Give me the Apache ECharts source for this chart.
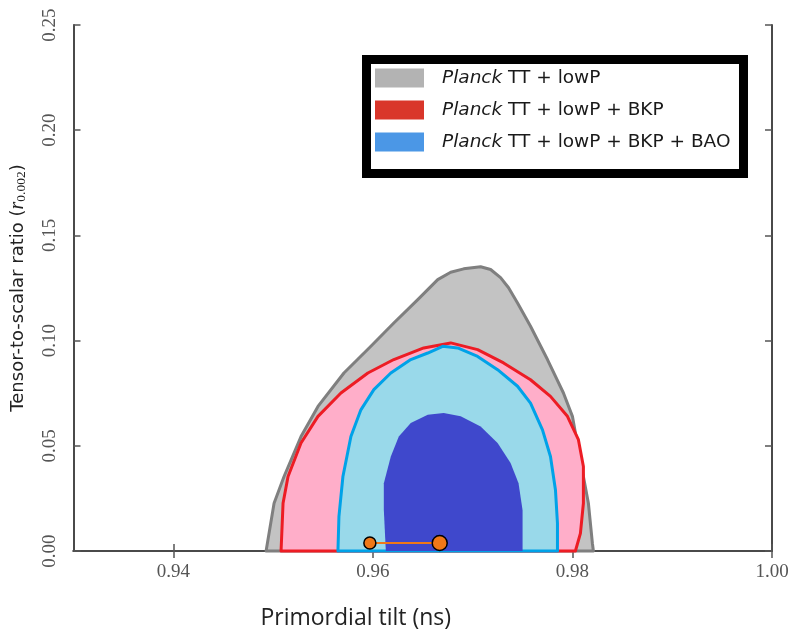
<!DOCTYPE html>
<html>
<head>
<meta charset="UTF-8">
<title>Planck r vs ns</title>
<script src="https://cdn.jsdelivr.net/npm/echarts@6/dist/echarts.min.js"></script>
</head>
<body style="margin:0;background:#fff;">
<div id="chartArea" style="width:792px;height:635px;"></div>
<script type="text/javascript">
// tick values
var xTicks = [0.94, 0.96, 0.98, 1.00];
var yTicks = [0.00, 0.05, 0.10, 0.15, 0.20, 0.25];

// contour outlines [ns, r]
var grayContour = [
  [0.9493, 0], [0.9501, 0.0227], [0.9511, 0.0354], [0.9528, 0.0544], [0.9545, 0.0687],
  [0.9571, 0.0846], [0.9598, 0.0973], [0.9621, 0.1084], [0.9645, 0.1195], [0.9665, 0.1290],
  [0.9678, 0.1325], [0.9691, 0.1341], [0.9708, 0.1351], [0.9718, 0.1338], [0.9728, 0.1299],
  [0.9736, 0.1251], [0.9745, 0.1179], [0.9758, 0.1068],
  [0.9775, 0.0910], [0.9791, 0.0751], [0.9800, 0.0640], [0.9806, 0.0481], [0.9811, 0.0354],
  [0.9816, 0.0227], [0.9820, 0.0037], [0.9821, 0]
];
var redContour = [
  [0.9508, 0], [0.9510, 0.0227], [0.9515, 0.0354], [0.9528, 0.0513], [0.9545, 0.0640],
  [0.9568, 0.0751], [0.9595, 0.0846], [0.9621, 0.0910], [0.9651, 0.0965], [0.9678, 0.0989],
  [0.9705, 0.0957], [0.9731, 0.0894], [0.9758, 0.0814], [0.9778, 0.0735], [0.9795, 0.0640],
  [0.9806, 0.0529], [0.9811, 0.0402], [0.9811, 0.0227], [0.9808, 0.0084], [0.9803, 0]
];
var blueContour = [
  [0.9565, 0], [0.9566, 0.0163], [0.9570, 0.0354], [0.9578, 0.0544], [0.9588, 0.0671],
  [0.9601, 0.0767], [0.9618, 0.0846], [0.9638, 0.0910], [0.9655, 0.0941], [0.9670, 0.0973],
  [0.9685, 0.0965], [0.9705, 0.0925], [0.9725, 0.0862], [0.9745, 0.0783], [0.9758, 0.0703],
  [0.9770, 0.0576], [0.9778, 0.0449], [0.9783, 0.0290], [0.9785, 0.0132], [0.9785, 0]
];
var blueInner = [
  [0.9613, 0], [0.9611, 0.0195], [0.9611, 0.0322], [0.9618, 0.0449], [0.9626, 0.0544],
  [0.9638, 0.0608], [0.9655, 0.0648], [0.9671, 0.0656], [0.9688, 0.0640], [0.9708, 0.0592],
  [0.9725, 0.0513], [0.9738, 0.0418], [0.9746, 0.0322], [0.9750, 0.0195], [0.9750, 0]
];
var markerPoints = [[0.9597, 0.0038], [0.9667, 0.0038]];

var seriesNames = ['Planck TT+lowP', 'Planck TT+lowP+BKP', 'Planck TT+lowP+BKP+BAO'];

function polygon(points, fill, stroke, lw) {
  return function(params, api) {
    if (params.dataIndex !== 0) return;
    var pts = points.map(function(p) { return api.coord(p); });
    return {
      type: 'polygon',
      shape: { points: pts },
      style: { fill: fill, stroke: stroke || null, lineWidth: lw || 0, lineJoin: 'round' }
    };
  };
}

var myChart = echarts.init(document.getElementById('chartArea'));
var axisLine = { show: true, lineStyle: { color: '#4a4a4a', width: 2 } };
var tickStyle = { inside: true, length: 7, lineStyle: { color: '#555', width: 1.5 } };
var labelFont = { fontFamily: 'Liberation Serif', fontSize: 19, color: '#555' };

var option = {
  animation: false,
  backgroundColor: '#fff',
  grid: { left: 72, right: 20, top: 25, bottom: 84 },
  xAxis: [{
    type: 'value', min: 0.93, max: 1.00,
    name: 'Primordial tilt (ns)', nameLocation: 'middle', nameGap: 56,
    nameTextStyle: { fontFamily: 'Open Sans', fontSize: 23, color: '#222', padding: [0, 134, 0, 0] },
    axisLine: { show: true, lineStyle: { color: '#222', width: 2 } },
    axisTick: Object.assign({ customValues: xTicks }, tickStyle),
    axisLabel: Object.assign({ customValues: xTicks, margin: 12,
      formatter: function(v) { return v.toFixed(2); } }, labelFont),
    splitLine: { show: false }
  }, {
    type: 'value', min: 0.93, max: 1.00, position: 'top',
    axisLine: axisLine,
    axisTick: Object.assign({ customValues: xTicks }, tickStyle),
    axisLabel: { show: false },
    splitLine: { show: false }
  }],
  yAxis: [{
    type: 'value', min: 0, max: 0.25, interval: 0.05,
    name: '{a|Tensor-to-scalar ratio (}{r|r}{s|0.002}{a|)}',
    nameLocation: 'middle', nameGap: 45,
    nameTextStyle: {
      rich: {
        a: { fontFamily: 'DejaVu Sans', fontSize: 18, color: '#222' },
        r: { fontFamily: 'Liberation Serif', fontStyle: 'italic', fontSize: 20, color: '#222' },
        s: { fontFamily: 'Liberation Serif', fontSize: 13.5, color: '#222', padding: [7, 0, 0, 0] }
      }
    },
    axisLine: axisLine,
    axisTick: tickStyle,
    axisLabel: Object.assign({ rotate: 90, margin: 14,
      formatter: function(v) { return v.toFixed(2); } }, labelFont),
    splitLine: { show: false }
  }, {
    type: 'value', min: 0, max: 0.25, interval: 0.05, position: 'right',
    axisLine: axisLine,
    axisTick: tickStyle,
    axisLabel: { show: false },
    splitLine: { show: false }
  }],
  legend: {
    orient: 'vertical',
    left: 366.5, top: 59.5,
    padding: [9, 13, 22, 8.5],
    backgroundColor: '#fff',
    borderColor: '#000', borderWidth: 9, borderRadius: 0,
    itemWidth: 49, itemHeight: 19, itemGap: 13,
    icon: 'rect',
    selectedMode: false,
    data: [
      { name: seriesNames[0], itemStyle: { color: '#b3b3b3' } },
      { name: seriesNames[1], itemStyle: { color: '#d9362a' } },
      { name: seriesNames[2], itemStyle: { color: '#4b97e6' } }
    ],
    formatter: function(name) {
      var rest = name.replace('Planck', '').split('+').join(' + ');
      return '{i|Planck}{t|' + rest + '}';
    },
    textStyle: {
      rich: {
        i: { fontFamily: 'DejaVu Sans', fontStyle: 'italic', fontSize: 18.5, color: '#1a1a1a', padding: [0, 0, 0, 13] },
        t: { fontFamily: 'DejaVu Sans', fontSize: 18.5, color: '#1a1a1a' }
      }
    }
  },
  series: [{
    name: seriesNames[0], type: 'custom', data: grayContour,
    renderItem: polygon(grayContour, '#c3c3c3', '#7f7f7f', 3)
  }, {
    name: seriesNames[1], type: 'custom', data: redContour,
    renderItem: polygon(redContour, '#ffaec9', '#ed1c24', 3)
  }, {
    name: seriesNames[2], type: 'custom', data: blueContour,
    renderItem: polygon(blueContour, '#99d9ea', '#00a2e8', 3)
  }, {
    name: 'inner', type: 'custom', data: blueInner,
    renderItem: polygon(blueInner, '#3f48cc')
  }, {
    name: 'marker', type: 'line', data: markerPoints,
    lineStyle: { color: '#f07818', width: 2 },
    symbol: 'circle',
    symbolSize: function(v, p) { return p.dataIndex === 1 ? 15 : 12; },
    itemStyle: { color: '#f07818', borderColor: '#000', borderWidth: 1.5 },
    z: 5
  }]
};
myChart.setOption(option);
</script>
</body>
</html>
